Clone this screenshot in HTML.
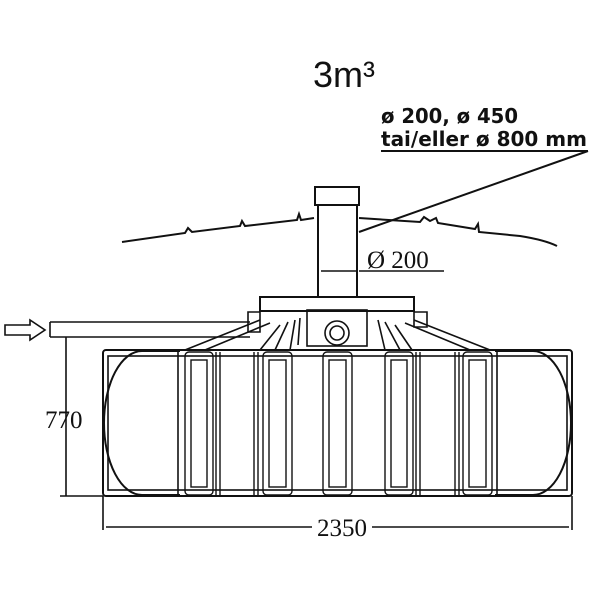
<!DOCTYPE html>
<html><head><style>body{margin:0;background:#fff}</style></head><body>
<svg width="600" height="600" viewBox="0 0 600 600" xmlns="http://www.w3.org/2000/svg" fill="none" stroke="#111" stroke-width="1.6">
<text x="313" y="87" font-family="Liberation Sans, sans-serif" font-size="36" fill="#111" stroke="none">3m³</text>
<text x="381" y="123" textLength="137" lengthAdjust="spacingAndGlyphs" font-family="DejaVu Sans Condensed, Liberation Sans, sans-serif" font-weight="bold" font-size="20" fill="#111" stroke="none">ø 200, ø 450</text>
<text x="381" y="146" textLength="206" lengthAdjust="spacingAndGlyphs" font-family="DejaVu Sans Condensed, Liberation Sans, sans-serif" font-weight="bold" font-size="20" fill="#111" stroke="none">tai/eller ø 800 mm</text>
<line x1="381" y1="151" x2="588" y2="151" stroke-width="2"/>
<line x1="588" y1="151" x2="359" y2="232" stroke-width="2"/>
<!-- ground -->
<path d="M122 242 L185 233 L188 228 L192 232 L240 226 L242 221 L245 226 L297 220 L299 214 L301 220 L314 218" stroke-width="2"/>
<path d="M359 218 L420 222 L424 217 L430 221 L436 218 L438 223 L475 229 L478 224 L479 232 L520 236 Q545 240 557 246" stroke-width="2"/>
<!-- pipe -->
<rect x="315" y="187" width="44" height="18" stroke-width="2"/>
<rect x="318" y="205" width="39" height="92" stroke-width="2"/>
<line x1="321" y1="271" x2="356" y2="271"/>
<line x1="359" y1="271" x2="444" y2="271"/>
<text x="367" y="268" font-family="Liberation Serif, serif" font-size="25" fill="#111" stroke="none">Ø 200</text>
<!-- platform -->
<rect x="260" y="297" width="154" height="14" stroke-width="2"/>
<path d="M248 312 h12 v20 h-12z M414 312 h13 v15 h-13z"/>
<rect x="307" y="310" width="60" height="36"/>
<circle cx="337" cy="333" r="12"/><circle cx="337" cy="333" r="7"/>
<path d="M260 320 L185 350 M270 323 L205 350 M280 325 L260 350 M288 322 L275 350 M295 320 L290 350 M300 318 L298 345"/>
<path d="M414 320 L490 350 M405 323 L470 350 M395 325 L412 350 M385 322 L400 350 M378 320 L385 350"/>
<!-- inlet -->
<path d="M50 322 H250 M50 337 H250 M50 322 V337"/>
<path d="M5 325 H30 V320 L45 330 L30 340 V335 H5 Z"/>
<!-- tank -->
<rect x="103" y="350" width="469" height="146" rx="3" stroke-width="2"/>
<rect x="108" y="356" width="459" height="134"/>
<path d="M180 351 H142 A38 72 0 0 0 142 495 H180" stroke-width="2"/>
<path d="M495 351 H533 A38 72 0 0 1 533 495 H495" stroke-width="2"/>
<line x1="178" y1="351" x2="178" y2="495"/><line x1="497" y1="351" x2="497" y2="495"/>
<g stroke-width="1.4">
<rect x="185" y="352" width="28" height="143" rx="4"/><rect x="191" y="360" width="16" height="127"/>
<rect x="263" y="352" width="29" height="143" rx="4"/><rect x="269" y="360" width="17" height="127"/>
<rect x="323" y="352" width="29" height="143" rx="4"/><rect x="329" y="360" width="17" height="127"/>
<rect x="385" y="352" width="28" height="143" rx="4"/><rect x="391" y="360" width="16" height="127"/>
<rect x="463" y="352" width="29" height="143" rx="4"/><rect x="469" y="360" width="17" height="127"/>
<line x1="216" y1="352" x2="216" y2="495"/><line x1="220" y1="352" x2="220" y2="495"/>
<line x1="254" y1="352" x2="254" y2="495"/><line x1="258" y1="352" x2="258" y2="495"/>
<line x1="416" y1="352" x2="416" y2="495"/><line x1="420" y1="352" x2="420" y2="495"/>
<line x1="455" y1="352" x2="455" y2="495"/><line x1="459" y1="352" x2="459" y2="495"/>
</g>
<!-- dims -->
<line x1="66" y1="337" x2="66" y2="496"/>
<line x1="60" y1="496" x2="103" y2="496"/>
<text x="45" y="428" font-family="Liberation Serif, serif" font-size="25" fill="#111" stroke="none">770</text>
<line x1="103" y1="496" x2="103" y2="530"/><line x1="572" y1="496" x2="572" y2="530"/>
<line x1="106" y1="527" x2="312" y2="527"/><line x1="372" y1="527" x2="569" y2="527"/>
<text x="342" y="536" text-anchor="middle" font-family="Liberation Serif, serif" font-size="25" fill="#111" stroke="none">2350</text>
</svg>
</body></html>
